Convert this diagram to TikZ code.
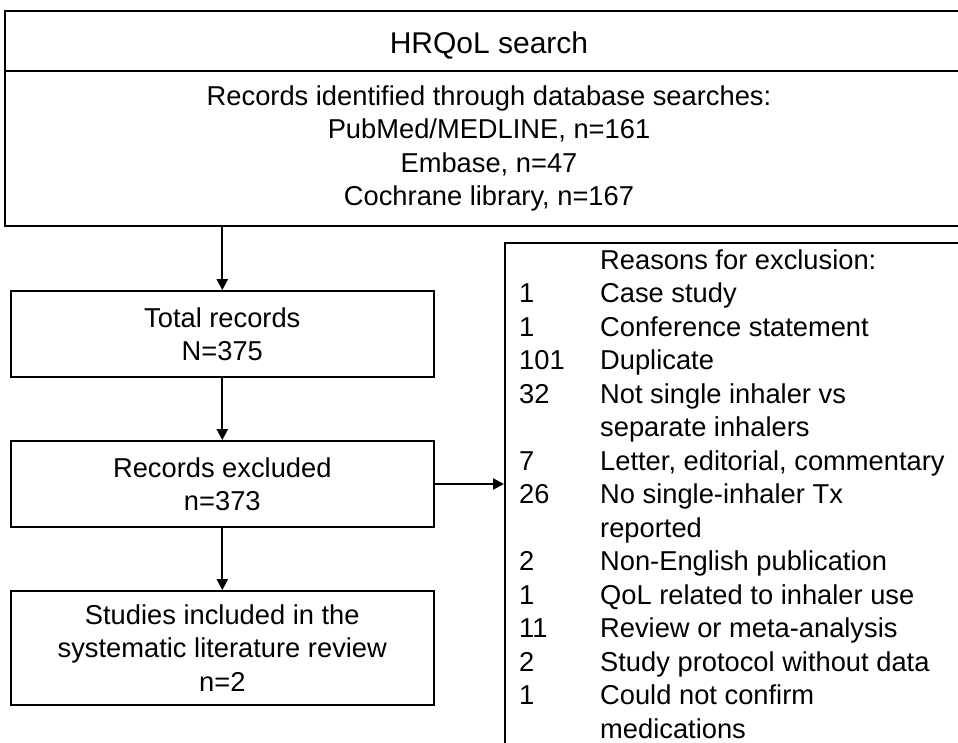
\documentclass[tikz,border=0pt]{standalone}
\usepackage{fontspec}
\setmainfont{Liberation Sans}
\usetikzlibrary{arrows.meta}
\begin{document}
\begin{tikzpicture}[x=1pt,y=-1pt,
  box/.style={draw, line width=1.8pt, rectangle, inner sep=0pt, align=center,
    font=\fontsize{27.3}{33.3}\selectfont},
  listtext/.style={inner sep=0pt, anchor=north west,
    font=\fontsize{27.3}{33.5}\selectfont},
  flow/.style={line width=2.2pt, -{Triangle[length=11pt,width=11pt]}},
]
% page area; the outer boxes run past its right and bottom edges
\clip (0,0) rectangle (958,743);
\fill[white] (0,0) rectangle (958,743);

% search box: heading and sources
\node[box, minimum width=968pt, minimum height=60pt, font=\fontsize{30}{36}\selectfont,
  text height=25.6pt, text depth=0pt] (head) at (489,41) {HRQoL search};
\node[box, minimum width=968pt, minimum height=155pt] (search) at (489,148.5)
  {Records identified through database searches:\\PubMed/MEDLINE, n=161\\Embase, n=47\\Cochrane library, n=167};

% screening steps
\node[box, minimum width=423pt, minimum height=86pt] (total) at (222.3,334) {Total records\\N=375};
\node[box, minimum width=423pt, minimum height=86pt] (excluded) at (222.3,484) {Records excluded\\n=373};
\node[box, minimum width=423pt, minimum height=114pt] (studies) at (222.3,648)
  {Studies included in the\\systematic literature review\\n=2};

% exclusion reasons
\node[box, minimum width=520pt, minimum height=560pt, anchor=north west] (reasons) at (504,242.3) {};
\node[listtext] (reasonlist) at (519,245.8) {%
  \begin{tabular}{@{}p{81pt}@{}l@{}}
     & Reasons for exclusion:\\
    1 & Case study\\
    1 & Conference statement\\
    101 & Duplicate\\
    32 & Not single inhaler vs\\
     & separate inhalers\\
    7 & Letter, editorial, commentary\\
    26 & No single-inhaler Tx\\
     & reported\\
    2 & Non-English publication\\
    1 & QoL related to inhaler use\\
    11 & Review or meta-analysis\\
    2 & Study protocol without data\\
    1 & Could not confirm\\
     & medications
  \end{tabular}};

% connectors
\draw[flow] (total.north |- search.south) -- (total.north);
\draw[flow] (total) -- (excluded);
\draw[flow] (excluded) -- (studies);
\draw[flow] (excluded.east) -- (reasons.west |- excluded.east);
\end{tikzpicture}
\end{document}
